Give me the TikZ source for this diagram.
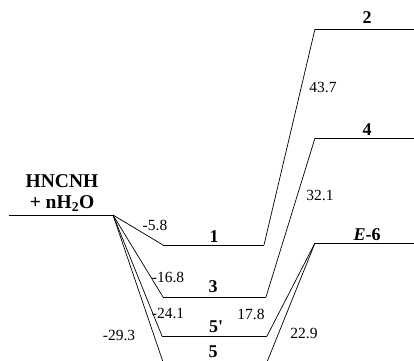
\documentclass[tikz,border=0pt]{standalone}
\usepackage{fontspec}
\setmainfont{Liberation Serif}
\begin{document}
\begin{tikzpicture}[x=1pt,y=-1pt,
  level/.style={line width=0.9pt},
  link/.style={line width=0.7pt},
  energy/.style={font=\fontsize{15.5}{15.5}\selectfont, inner sep=0pt, anchor=base},
  species/.style={font=\fontsize{18}{18}\selectfont\bfseries, inner sep=0pt, anchor=base},
  reactant/.style={species, font=\fontsize{19.5}{19.5}\selectfont\bfseries}]
\useasboundingbox (0,0) rectangle (414,360);
\clip (0,0) rectangle (414,360);

% end points of the energy levels
\coordinate (R-l)   at (9,215);   \coordinate (R-r)   at (113,215);
\coordinate (I1-l)  at (163,245); \coordinate (I1-r)  at (264,245);
\coordinate (I3-l)  at (163,297); \coordinate (I3-r)  at (266,297);
\coordinate (I5p-l) at (162,336); \coordinate (I5p-r) at (267,336);
\coordinate (I5-l)  at (163,362); \coordinate (I5-r)  at (267,362);
\coordinate (T2-l)  at (315,29);  \coordinate (T2-r)  at (414,29);
\coordinate (T4-l)  at (315,138); \coordinate (T4-r)  at (414,138);
\coordinate (E6-l)  at (315,243); \coordinate (E6-r)  at (414,243);

% energy levels
\foreach \lv in {R,I1,I3,I5p,I5,T2,T4,E6}
  \draw[level] (\lv-l) -- (\lv-r);

% connections between levels
\foreach \tgt in {I1,I3,I5p,I5}
  \draw[link] (R-r) -- (\tgt-l);
\draw[link] (I1-r)  -- (T2-l);
\draw[link] (I3-r)  -- (T4-l);
\draw[link] (I5p-r) -- (E6-l);
\draw[link] (I5-r)  -- (E6-l);

% species labels
\node[reactant] (lR1) at (62,187) {HNCNH};
\node[reactant] (lR2) at (62,208) {+ nH\textsubscript{2}O};
\node[species] (l1)  at (214,242) {1};
\node[species] (l3)  at (213,292) {3};
\node[species] (l5p) at (216,332) {5\textquotesingle};
\node[species] (l5)  at (213,357) {5};
\node[species] (l2)  at (367,23)  {2};
\node[species] (l4)  at (367,135) {4};
\node[species] (l6)  at (367,240) {\textit{E}-6};

% relative energies
\node[energy] (e1)  at (155,230) {-5.8};
\node[energy] (e3)  at (168,282) {-16.8};
\node[energy] (e5p) at (168,318) {-24.1};
\node[energy] (e5)  at (119,340) {-29.3};
\node[energy] (t6a) at (251,319) {17.8};
\node[energy] (t6b) at (304,338) {22.9};
\node[energy] (t4)  at (320,200) {32.1};
\node[energy] (t2)  at (323,92)  {43.7};
\end{tikzpicture}
\end{document}
